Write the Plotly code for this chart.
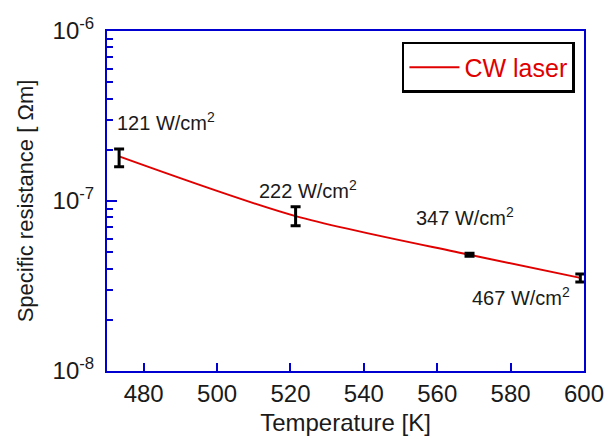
import plotly.graph_objects as go
import numpy as np

temperature = [473.3, 521.4, 568.8, 599.0]
resistance = [1.83e-7, 8.15e-8, 4.83e-8, 3.53e-8]
err_plus = [1.9e-8, 1.1e-8, 0.1e-8, 0.19e-8]
err_minus = [2.4e-8, 1.0e-8, 0.1e-8, 0.19e-8]
power_labels = ["121 W/cm<sup>2</sup>", "222 W/cm<sup>2</sup>", "347 W/cm<sup>2</sup>", "467 W/cm<sup>2</sup>"]
label_shift_x = [-4, -39, -56, -110]
label_shift_y = [35, 27, 38, -19]
major_y = [1e-8, 1e-7, 1e-6]
major_y_text = ["10<sup>-8</sup>", "10<sup>-7</sup>", "10<sup>-6</sup>"]
minor_y = [m * 10.0 ** e for e in (-8, -7) for m in range(2, 10)]

AX = "#0000d0"
TXT = "#1a1a1a"
FONT = "Arial, Liberation Sans, sans-serif"

all_y = list(major_y) + list(minor_y)
all_y_text = list(major_y_text) + [""] * len(minor_y)

fig = go.Figure()
# invisible trace carrying the overlay axis used for the longer decade ticks
fig.add_trace(go.Scatter(
    x=temperature, y=resistance, yaxis="y2", mode="markers",
    marker=dict(size=1, opacity=0), showlegend=False, hoverinfo="skip"))
fig.add_trace(go.Scatter(
    x=temperature, y=resistance, mode="lines",
    line=dict(color="#e00000", width=2, shape="spline", smoothing=0.8),
    name="CW laser", showlegend=True))
fig.add_trace(go.Scatter(
    x=temperature, y=resistance, mode="markers",
    marker=dict(size=1, color="black"),
    error_y=dict(type="data", array=err_plus, arrayminus=err_minus, symmetric=False,
                 color="black", thickness=3, width=5),
    showlegend=False, hoverinfo="skip"))

for t, r, lab, sx, sy in zip(temperature, resistance, power_labels, label_shift_x, label_shift_y):
    fig.add_annotation(x=t, y=np.log10(r), text=lab, showarrow=False,
                       xanchor="left", yanchor="middle", xshift=sx, yshift=sy,
                       font=dict(family=FONT, size=20, color=TXT))

fig.update_layout(
    width=616, height=444,
    margin=dict(l=107, r=25, t=31, b=71),
    paper_bgcolor="white", plot_bgcolor="white",
    font=dict(family=FONT, color=TXT),
    legend=dict(x=0.981, y=0.968, xanchor="right", yanchor="top",
                bordercolor="black", borderwidth=2.5, bgcolor="white",
                font=dict(family=FONT, size=25, color="#e00000"),
                itemwidth=50, tracegroupgap=0),
    xaxis=dict(
        range=[470, 600], tick0=480, dtick=20,
        showline=True, linecolor=AX, linewidth=2, mirror=True,
        ticks="inside", ticklen=8, tickwidth=2, tickcolor=AX,
        showgrid=False, zeroline=False,
        tickfont=dict(family=FONT, size=24, color=TXT),
        title=dict(text="Temperature [K]", font=dict(family=FONT, size=24, color=TXT), standoff=8)),
    yaxis=dict(
        type="log", range=[-8, -6], tickmode="array", tickvals=all_y, ticktext=all_y_text,
        showline=True, linecolor=AX, linewidth=2, mirror=True,
        ticks="inside", ticklen=6, tickwidth=2, tickcolor=AX, ticklabelstandoff=6,
        showgrid=False, zeroline=False,
        tickfont=dict(family=FONT, size=24, color=TXT),
        title=dict(text="Specific resistance [ \u03a9m]", font=dict(family=FONT, size=22, color=TXT), standoff=13)),
    yaxis2=dict(
        type="log", range=[-8, -6], overlaying="y", side="left", anchor="x",
        tickmode="array", tickvals=major_y, ticks="inside", ticklen=10, tickwidth=2,
        tickcolor=AX, showticklabels=False, showline=False, showgrid=False,
        zeroline=False, fixedrange=True),
)

fig.write_html("out.html")
